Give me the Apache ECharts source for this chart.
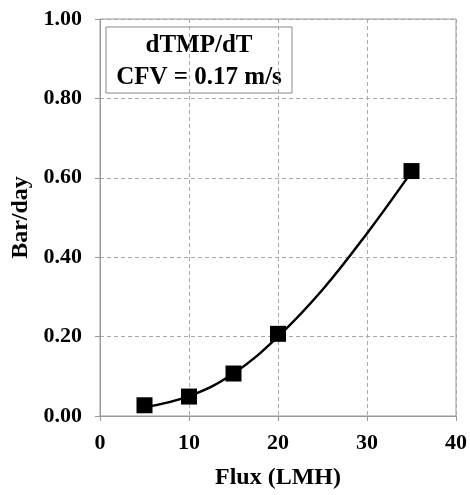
<!DOCTYPE html>
<html>
<head>
<meta charset="utf-8">
<script src="https://cdn.jsdelivr.net/npm/echarts@6/dist/echarts.min.js"></script>
<style>
	html, body { margin: 0; padding: 0; background: #fff; }
	#chart { width: 470px; height: 495px; }
</style>
</head>
<body>
<div id="chart"></div>
<script>
// measured points
var fluxValues = [5, 10, 15, 20, 35];
var rateValues = [0.027, 0.049, 0.107, 0.207, 0.617];

// trend line
var trendFlux = [5, 10, 15, 20, 25, 30, 35];
var trendRate = [0.022, 0.050, 0.107, 0.200, 0.318, 0.460, 0.615];

var serif = '"Liberation Serif", "Times New Roman", serif';

function pairs(xs, ys){
	var out = [];
	for(var i=0; i<xs.length; i++){
		out.push([xs[i], ys[i]]);
	}
	return out;
}

var chart = echarts.init(document.getElementById('chart'));

var option = {
	animation: false,
	backgroundColor: '#fff',
	grid: {
		show: true,
		left: 100,
		right: 12,
		top: 19,
		bottom: 76,
		borderColor: '#999',
		borderWidth: 1
	},
	xAxis: {
		type: 'value',
		min: 0,
		max: 40,
		interval: 10,
		name: 'Flux (LMH)',
		nameLocation: 'middle',
		nameGap: 50,
		nameTextStyle: { fontFamily: serif, fontWeight: 'bold', fontSize: 24, color: '#000' },
		axisLine: { show: true, lineStyle: { color: '#999' } },
		axisTick: { show: true, length: 5, lineStyle: { color: '#999' } },
		axisLabel: { fontFamily: serif, fontWeight: 'bold', fontSize: 22, color: '#000', margin: 16 },
		splitLine: { show: true, lineStyle: { color: '#aaa', type: [4, 3] } }
	},
	yAxis: {
		type: 'value',
		min: 0,
		max: 1,
		interval: 0.2,
		name: 'Bar/day',
		nameLocation: 'middle',
		nameGap: 66,
		nameTextStyle: { fontFamily: serif, fontWeight: 'bold', fontSize: 24, color: '#000' },
		axisLine: { show: true, lineStyle: { color: '#999' } },
		axisTick: { show: true, length: 5, lineStyle: { color: '#999' } },
		axisLabel: {
			fontFamily: serif, fontWeight: 'bold', fontSize: 22, color: '#000', margin: 18,
			formatter: function(v){ return v.toFixed(2); }
		},
		splitLine: { show: true, lineStyle: { color: '#aaa', type: [4, 3] } }
	},
	graphic: [
		{
			type: 'group',
			x: 106,
			y: 27,
			z: 10,
			children: [
				{
					type: 'rect',
					shape: { x: 0, y: 0, width: 186, height: 66 },
					style: { fill: '#fff', stroke: '#888', lineWidth: 1 }
				},
				{
					type: 'text',
					x: 93,
					y: 35,
					style: {
						text: 'dTMP/dT\nCFV = 0.17 m/s',
						fill: '#000',
						font: 'bold 25px ' + serif,
						align: 'center',
						verticalAlign: 'middle',
						lineHeight: 32
					}
				}
			]
		}
	],
	series: [
		{
			type: 'line',
			data: pairs(trendFlux, trendRate),
			smooth: 0.4,
			showSymbol: false,
			symbol: 'none',
			lineStyle: { color: '#000', width: 2.5 },
			z: 2
		},
		{
			type: 'scatter',
			data: pairs(fluxValues, rateValues),
			symbol: 'rect',
			symbolSize: 16,
			itemStyle: { color: '#000', opacity: 1 },
			z: 3
		}
	]
};

chart.setOption(option);
</script>
</body>
</html>
